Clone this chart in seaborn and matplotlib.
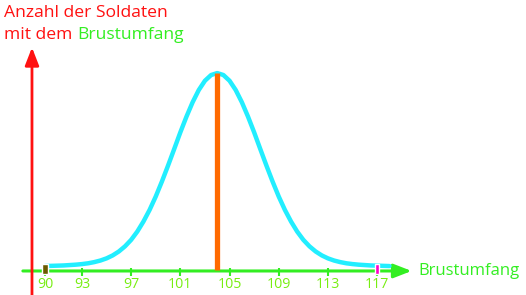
import numpy as np
import pandas as pd
import matplotlib
matplotlib.use("Agg")
import matplotlib.pyplot as plt
import seaborn as sns

# ---- data ----
curve_x = [90, 90.5, 91, 91.5, 92, 92.5, 93, 93.5, 94, 94.5, 95, 95.5, 96, 96.5,
           97, 97.5, 98, 98.5, 99, 99.5, 100, 100.5, 101, 101.5, 102, 102.5, 103, 103.5,
           104, 104.5, 105, 105.5, 106, 106.5, 107, 107.5, 108, 108.5, 109, 109.5,
           110, 110.5, 111, 111.5, 112, 112.5, 113, 113.5, 114, 114.5, 115, 115.5,
           116, 116.5, 117, 117.5, 118]
curve_y = [2.0, 2.1, 2.2, 2.3, 2.5, 2.7, 3.0, 3.4, 4.0, 4.8, 5.9, 7.4, 9.4, 12.0,
           15.3, 19.5, 24.6, 30.5, 37.3, 44.9, 53.0, 61.4, 69.9, 77.9, 85.2, 91.4, 96.1, 99.0,
           100.0, 99.0, 96.1, 91.4, 85.2, 77.9, 69.9, 61.4, 53.0, 44.9, 37.3, 30.5,
           24.6, 19.5, 15.3, 12.0, 9.4, 7.4, 5.9, 4.8, 4.0, 3.4, 3.0, 2.7, 2.5, 2.3,
           2.2, 2.1, 2.0]
mean_x = [104]
mean_y = [100.0]
small_x = [90, 117]
small_y = [3.0, 3.0]
small_colors = ["#6b5a00", "#ff00cc"]
tick_vals = [90, 93, 97, 101, 105, 109, 113, 117]
tick_labels = ["90", "93", "97", "101", "105", "109", "113", "117"]
x_title = "Brustumfang"
y_title_1 = "Anzahl der Soldaten"
y_title_2a = "mit dem "
y_title_2b = "Brustumfang"

sns.set_theme(style="white")
plt.rcParams['font.family'] = ['Open Sans', 'DejaVu Sans']

RED = "#ff1111"
GREEN = "#33ee22"
TGREEN = "#77ee11"
CYAN = "#22eeff"
ORANGE = "#ff6a00"

fig = plt.figure(figsize=(5.26, 2.95), dpi=100)
ax = fig.add_axes([0, 0, 1, 1])
ax.set_xlim(86.34, 129.1)
ax.set_ylim(-12.7, 137.1)
ax.axis("off")

# axes arrows
ax.annotate("", xy=(119.8, -0.5), xytext=(88.2, -0.5),
            arrowprops=dict(arrowstyle="-|>,head_length=0.9,head_width=0.35",
                            color=GREEN, lw=2.2, shrinkA=0, shrinkB=0))
ax.annotate("", xy=(88.94, 113), xytext=(88.94, -14),
            arrowprops=dict(arrowstyle="-|>,head_length=0.9,head_width=0.35",
                            color=RED, lw=2.0, shrinkA=0, shrinkB=0))

# ticks
ax.vlines(tick_vals, -3.0, 1.0, color=GREEN, lw=1.5)
for v, lab in zip(tick_vals, tick_labels):
    ax.text(v, -3.4, lab, color=TGREEN, fontsize=10.2, ha="center", va="top")

# curve
df = pd.DataFrame({"x": curve_x, "y": curve_y})
sns.lineplot(data=df, x="x", y="y", ax=ax, color=CYAN, lw=3.2, sort=True, zorder=3)

# mean line
ax.vlines(mean_x, 0, mean_y, color=ORANGE, lw=3.8, zorder=4)

# small bars
ax.bar(small_x, [h + 2.0 for h in small_y], bottom=-2.0, width=[0.52, 0.36],
       color=small_colors, zorder=5)

# labels
ax.text(120.32, -0.5, x_title, color=GREEN, fontsize=12.0, ha="left", va="center")
fig.text(4 / 526, 1 - 13 / 295, y_title_1, color=RED, fontsize=12.6, ha="left", va="center")
t = fig.text(4 / 526, 1 - 35 / 295, y_title_2a, color=RED, fontsize=12.6, ha="left", va="center")
fig.canvas.draw()
bb = t.get_window_extent()
fig.text(bb.x1 / fig.bbox.width, 1 - 35 / 295, y_title_2b, color=GREEN, fontsize=12.6,
         ha="left", va="center")

fig.savefig("out.png", dpi=100, facecolor="white")
